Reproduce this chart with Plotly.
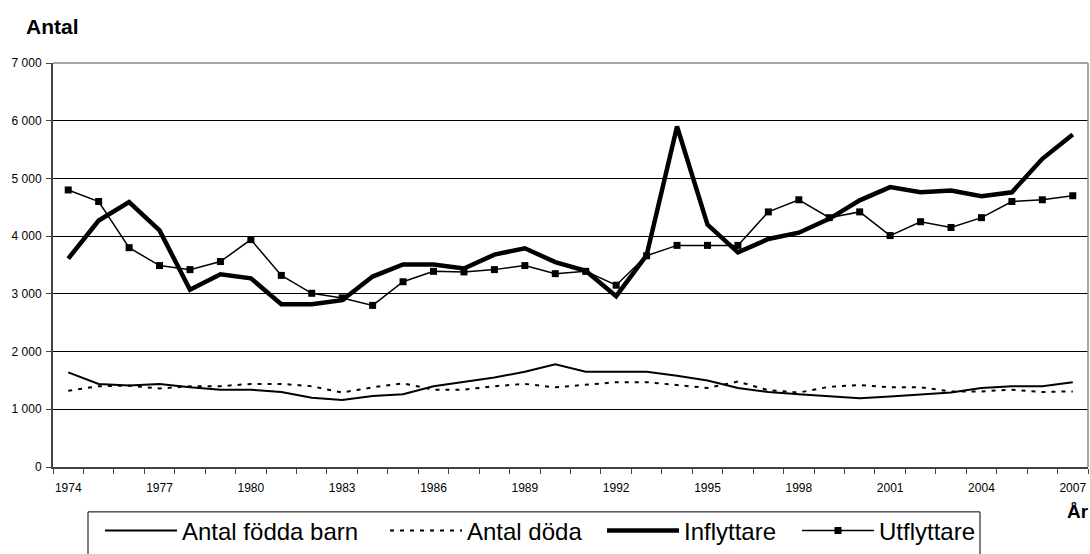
import plotly.graph_objects as go

years = [str(y) for y in range(1974, 2008)]
tick_labels = [y if (int(y) - 1974) % 3 == 0 else "" for y in years]

fodda = [1640, 1440, 1410, 1440, 1380, 1340, 1340, 1300, 1200, 1160, 1230, 1260, 1400, 1470,
         1550, 1650, 1780, 1650, 1650, 1650, 1580, 1500, 1370, 1300, 1260, 1220, 1190, 1220,
         1250, 1290, 1370, 1400, 1400, 1470]
doda = [1320, 1400, 1410, 1360, 1400, 1400, 1440, 1440, 1400, 1290, 1380, 1450, 1340, 1340,
        1400, 1440, 1380, 1430, 1470, 1470, 1420, 1370, 1480, 1330, 1290, 1390, 1420, 1380,
        1380, 1310, 1310, 1340, 1300, 1310]
infl = [3610, 4270, 4590, 4100, 3070, 3340, 3270, 2820, 2820, 2890, 3300, 3510, 3510, 3440,
        3680, 3790, 3550, 3400, 2960, 3670, 5900, 4200, 3720, 3950, 4060, 4300, 4620, 4850,
        4760, 4790, 4690, 4760, 5340, 5760]
utfl = [4800, 4600, 3800, 3490, 3420, 3560, 3940, 3320, 3010, 2930, 2800, 3210, 3390, 3380,
        3420, 3490, 3350, 3390, 3150, 3660, 3840, 3840, 3840, 4420, 4630, 4320, 4420, 4010,
        4250, 4150, 4320, 4600, 4630, 4700]

W, H = 1090, 554
L, R, T, B = 53, 2, 63, 86
pw, ph = W - L - R, H - T - B
FONT = "Arial, Liberation Sans, sans-serif"

def px(x):
    return (x - L) / pw

def py(y):
    return (H - B - y) / ph

fig = go.Figure()
fig.add_trace(go.Scatter(x=years, y=fodda, name="Antal födda barn", mode="lines",
                         line=dict(color="black", width=2), legend="legend"))
fig.add_trace(go.Scatter(x=years, y=doda, name="Antal döda", mode="lines",
                         line=dict(color="black", width=2, dash="4px,6px"), legend="legend2"))
fig.add_trace(go.Scatter(x=years, y=infl, name="Inflyttare", mode="lines",
                         line=dict(color="black", width=4.5), legend="legend3"))
fig.add_trace(go.Scatter(x=years, y=utfl, name="Utflyttare", mode="lines+markers",
                         line=dict(color="black", width=1.5),
                         marker=dict(symbol="square", size=7, color="black"), legend="legend4"))

leg_common = dict(orientation="h", yanchor="bottom", xanchor="left", y=py(553.5),
                  font=dict(family=FONT, size=24, color="black"), bgcolor="rgba(0,0,0,0)",
                  borderwidth=0, itemwidth=72)
text_starts = [180, 465, 682, 877]
legends = {}
for i, ts in enumerate(text_starts):
    key = "legend" if i == 0 else f"legend{i+1}"
    legends[key] = dict(leg_common, x=px(ts - 80))

fig.update_layout(
    width=W, height=H,
    margin=dict(l=L, r=R, t=T, b=B),
    paper_bgcolor="white", plot_bgcolor="white",
    separators=", ",
    showlegend=True,
    font=dict(family=FONT, size=12, color="black"),
    xaxis=dict(type="category", tickmode="array", tickvals=years, ticktext=tick_labels,
               tickson="boundaries", ticks="outside", ticklen=5, tickcolor="#444", tickwidth=1,
               showgrid=False, showline=True, linecolor="#444", linewidth=2,
               tickfont=dict(family=FONT, size=12, color="black"), tickangle=0,
               ticklabelstandoff=9, range=[-0.5, 33.5], automargin=False),
    yaxis=dict(range=[0, 7000], tickvals=[0, 1000, 2000, 3000, 4000, 5000, 6000, 7000],
               tickformat=",d", ticks="outside", ticklen=5, tickcolor="#444", tickwidth=1,
               showgrid=True, gridcolor="black", gridwidth=1, zeroline=False,
               showline=True, linecolor="#444", linewidth=2, automargin=False,
               ticklabelstandoff=2,
               tickfont=dict(family=FONT, size=12, color="black")),
    **legends,
)

# plot area border (top & right) and legend frame
fig.add_shape(type="line", xref="paper", yref="paper", x0=0, x1=1, y0=1, y1=1,
              line=dict(color="#888", width=1.5), layer="above")
fig.add_shape(type="line", xref="paper", yref="paper", x0=1, x1=1, y0=0, y1=1,
              line=dict(color="#888", width=1.5), layer="above")
fig.add_shape(type="rect", xref="paper", yref="paper", x0=px(88), x1=px(980),
              y0=py(513), y1=py(558), line=dict(color="black", width=1), fillcolor="rgba(0,0,0,0)")

fig.add_annotation(text="<b>Antal</b>", xref="paper", yref="paper", x=px(24), y=py(26),
                   xanchor="left", yanchor="middle", showarrow=False,
                   font=dict(family=FONT, size=21, color="black"))
fig.add_annotation(text="<b>År</b>", xref="paper", yref="paper", x=px(1091), y=py(513),
                   xanchor="right", yanchor="middle", showarrow=False,
                   font=dict(family=FONT, size=19, color="black"))

fig.write_html("out.html", config={"displayModeBar": False},
               post_script="document.body.style.margin='0';")
